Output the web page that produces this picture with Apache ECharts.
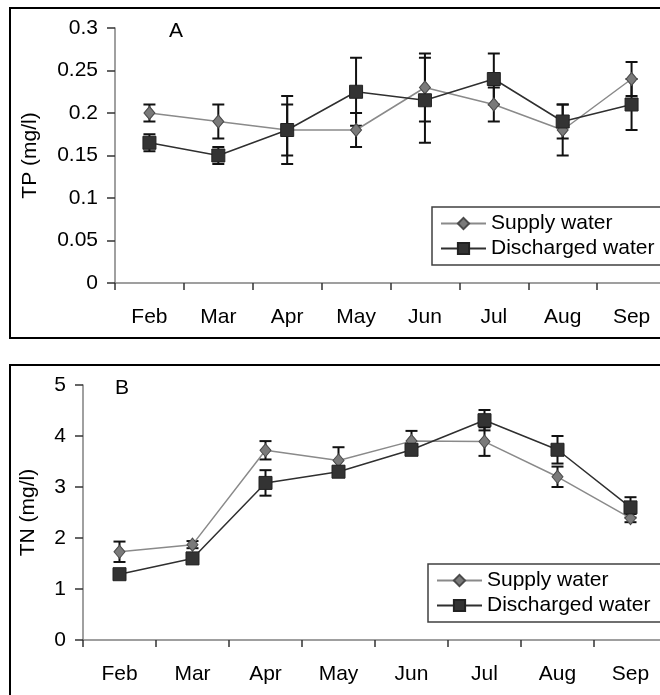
<!DOCTYPE html>
<html>
<head>
<meta charset="utf-8">
<script src="https://cdn.jsdelivr.net/npm/echarts@6/dist/echarts.min.js"></script>
<style>
html,body{margin:0;padding:0;background:#fff;}
#chart{width:660px;height:695px;}
</style>
</head>
<body>
<div id="chart"></div>
<script>
var months = ['Feb','Mar','Apr','May','Jun','Jul','Aug','Sep'];

var tpSupply        = [0.20, 0.19, 0.18, 0.18, 0.23, 0.21, 0.18, 0.24];
var tpSupplyErr     = [0.01, 0.02, 0.03, 0.02, 0.04, 0.02, 0.03, 0.02];
var tpDischarged    = [0.165, 0.15, 0.18, 0.225, 0.215, 0.24, 0.19, 0.21];
var tpDischargedErr = [0.01, 0.01, 0.04, 0.04, 0.05, 0.03, 0.02, 0.03];

var tnSupply        = [1.73, 1.87, 3.72, 3.52, 3.90, 3.89, 3.20, 2.39];
var tnSupplyErr     = [0.20, 0.07, 0.18, 0.26, 0.20, 0.28, 0.20, 0.08];
var tnDischarged    = [1.29, 1.60, 3.08, 3.30, 3.73, 4.31, 3.73, 2.60];
var tnDischargedErr = [0.05, 0.10, 0.25, 0.10, 0.10, 0.20, 0.27, 0.20];

var tpTicks = ['0','0.05','0.1','0.15','0.2','0.25','0.3'];
var tnTicks = ['0','1','2','3','4','5'];

var FONT = '"Liberation Sans", Arial, sans-serif';
var SUPPLY_LINE = '#8a8a8a', SUPPLY_FILL = '#7a7a7a', SUPPLY_BORDER = '#4a4a4a';
var DIS_LINE = '#2f2f2f', DIS_FILL = '#333333';

function errData(vals, errs){
  return vals.map(function(v,i){ return [i, v - errs[i], v + errs[i]]; });
}
function errSeries(vals, errs, xi, yi){
  return {
    type:'custom', xAxisIndex:xi, yAxisIndex:yi, z:1, silent:true,
    data: errData(vals, errs),
    encode:{x:0, y:[1,2]},
    renderItem:function(params, api){
      var lo = api.coord([api.value(0), api.value(1)]);
      var hi = api.coord([api.value(0), api.value(2)]);
      var w = 6;
      var st = {stroke:'#111', lineWidth:2};
      return {type:'group', children:[
        {type:'line', shape:{x1:lo[0],y1:lo[1],x2:hi[0],y2:hi[1]}, style:st},
        {type:'line', shape:{x1:lo[0]-w,y1:lo[1],x2:lo[0]+w,y2:lo[1]}, style:st},
        {type:'line', shape:{x1:hi[0]-w,y1:hi[1],x2:hi[0]+w,y2:hi[1]}, style:st}
      ]};
    }
  };
}
function supplySeries(vals, xi, yi){
  return {
    name:'Supply water', type:'line', xAxisIndex:xi, yAxisIndex:yi, z:3,
    data: vals, symbol:'diamond', symbolSize:[11,13],
    lineStyle:{color:SUPPLY_LINE, width:1.5},
    itemStyle:{color:SUPPLY_FILL, borderColor:SUPPLY_BORDER, borderWidth:1},
    emphasis:{disabled:true}, animation:false
  };
}
function disSeries(vals, xi, yi){
  return {
    name:'Discharged water', type:'line', xAxisIndex:xi, yAxisIndex:yi, z:4,
    data: vals, symbol:'rect', symbolSize:13,
    lineStyle:{color:DIS_LINE, width:1.5},
    itemStyle:{color:DIS_FILL, borderColor:'#222', borderWidth:1},
    emphasis:{disabled:true}, animation:false
  };
}
function xAx(gi){
  return {
    type:'category', gridIndex:gi, data:months, boundaryGap:true,
    axisLine:{lineStyle:{color:'#808080', width:1.5}},
    axisTick:{show:true, length:7, inside:false, alignWithLabel:false, lineStyle:{color:'#333', width:1.5}},
    axisLabel:{color:'#000', fontSize:21, fontFamily:FONT, margin:24},
    splitLine:{show:false}
  };
}
function yAx(gi, max, interval, name, ticks, gap){
  return {
    type:'value', gridIndex:gi, min:0, max:max, interval:interval,
    name:name, nameLocation:'middle', nameRotate:90, nameGap:gap,
    nameTextStyle:{color:'#000', fontSize:21, fontFamily:FONT},
    axisLine:{show:true, lineStyle:{color:'#808080', width:1.5}},
    axisTick:{show:true, length:8, lineStyle:{color:'#333', width:1.5}},
    axisLabel:{color:'#000', fontSize:21, fontFamily:FONT, margin:17,
      formatter:function(v){ var i = Math.round(v/interval); return ticks[i]; }},
    splitLine:{show:false}
  };
}
function legendAt(left, top){
  return {
    show:true, orient:'vertical', left:left, top:top,
    data:['Supply water','Discharged water'],
    itemWidth:45, itemHeight:14, itemGap:4,
    padding:[6, 80, 6, 8],
    borderColor:'#404040', borderWidth:1.5, backgroundColor:'#fff',
    selectedMode:false,
    textStyle:{color:'#000', fontSize:21, fontFamily:FONT, lineHeight:21}
  };
}

var chart = echarts.init(document.getElementById('chart'), null, {renderer:'canvas'});
chart.setOption({
  backgroundColor:'#fff',
  animation:false,
  grid:[
    {left:115, top:28, width:551, height:255, outerBoundsMode:'none', containLabel:false},
    {left:83, top:385, width:584, height:255, outerBoundsMode:'none', containLabel:false}
  ],
  xAxis:[xAx(0), xAx(1)],
  yAxis:[yAx(0, 0.3, 0.05, 'TP (mg/l)', tpTicks, 74), yAx(1, 5, 1, 'TN (mg/l)', tnTicks, 44)],
  legend:[legendAt(432, 207), legendAt(428, 564)],
  title:[
    {text:'A', left:164, top:16, textStyle:{fontSize:21, fontWeight:'normal', color:'#000', fontFamily:FONT}},
    {text:'B', left:110, top:373, textStyle:{fontSize:21, fontWeight:'normal', color:'#000', fontFamily:FONT}}
  ],
  graphic:[
    {type:'rect', shape:{x:10, y:8, width:700, height:330}, style:{fill:'none', stroke:'#000', lineWidth:2}, z:100},
    {type:'rect', shape:{x:10, y:365, width:700, height:400}, style:{fill:'none', stroke:'#000', lineWidth:2}, z:100}
  ],
  series:[
    errSeries(tpSupply, tpSupplyErr, 0, 0),
    errSeries(tpDischarged, tpDischargedErr, 0, 0),
    supplySeries(tpSupply, 0, 0),
    disSeries(tpDischarged, 0, 0),
    errSeries(tnSupply, tnSupplyErr, 1, 1),
    errSeries(tnDischarged, tnDischargedErr, 1, 1),
    supplySeries(tnSupply, 1, 1),
    disSeries(tnDischarged, 1, 1)
  ]
});
</script>
</body>
</html>
